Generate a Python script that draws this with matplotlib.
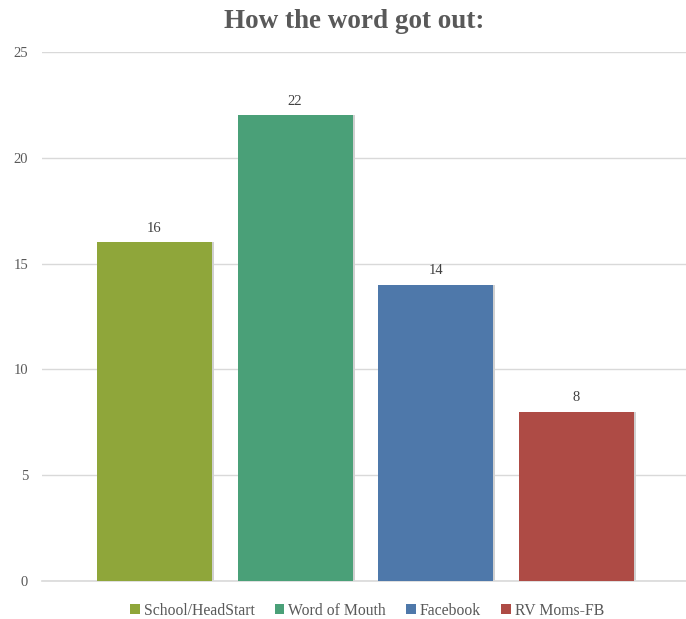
import matplotlib
matplotlib.use("Agg")
import matplotlib.pyplot as plt
from matplotlib.patches import Patch

categories = ["School/HeadStart", "Word of Mouth", "Facebook", "RV Moms-FB"]
values = [16, 22, 14, 8]
colors = ["#8FA63A", "#4AA078", "#4E78AA", "#AE4B45"]
yticks = [0, 5, 10, 15, 20, 25]

plt.rcParams['font.family'] = ['Liberation Serif', 'DejaVu Serif']

fig = plt.figure(figsize=(6.86, 6.19), dpi=100)
W, H = 686, 619
ax = fig.add_axes([42 / W, 1 - 581 / H, (686 - 42) / W, (581 - 52) / H])

x = list(range(len(categories)))
# subtle shadow
ax.bar([i + 0.015 for i in x], values, width=0.817, color="#d0d0d0", zorder=2)
bars = ax.bar(x, values, width=0.817, color=colors, zorder=3)
for i, v in zip(x, values):
    ax.text(i, v + 0.35, str(v), ha="center", va="bottom", fontsize=10.5, color="#404040", zorder=4)

ax.set_xlim(-0.80, 3.78)
ax.set_ylim(0, 25)
ax.set_yticks(yticks)
ax.set_yticklabels([str(t) for t in yticks], fontsize=10.5, color="#595959")
ax.set_xticks([])
ax.tick_params(axis="y", length=0, pad=10)
ax.grid(axis="y", color="#d9d9d9", linewidth=1, zorder=0)
for s in ["top", "right", "left"]:
    ax.spines[s].set_visible(False)
ax.spines["bottom"].set_color("#d9d9d9")
ax.spines["bottom"].set_linewidth(1.2)

fig.text(354 / W, 1 - 22 / H, "How the word got out:", ha="center", va="center",
         fontsize=19.5, fontweight="bold", color="#595959")

handles = [Patch(facecolor=c, edgecolor="none") for c in colors]
fig.legend(handles, categories, loc="center", bbox_to_anchor=(367 / W, 1 - 611 / H), ncol=4,
           frameon=False, fontsize=11.3, handlelength=0.6, handleheight=0.6,
           handletextpad=0.25, columnspacing=1.3, labelcolor="#595959")

fig.savefig("out.png", dpi=100)
